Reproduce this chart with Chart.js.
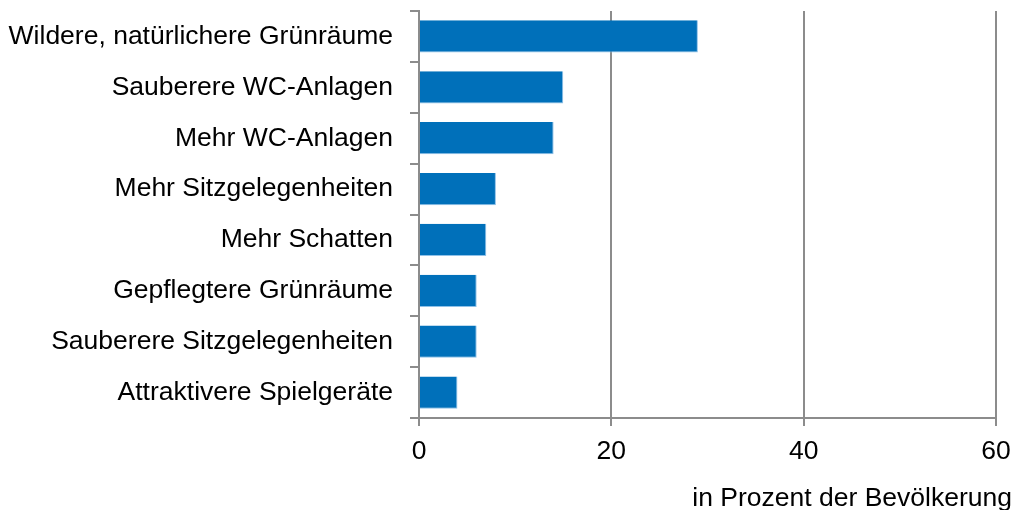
<!DOCTYPE html>
<html>
<head>
<meta charset="utf-8">
<script src="https://cdn.jsdelivr.net/npm/chart.js@4/dist/chart.umd.min.js"></script>
<style>
  html, body { margin: 0; padding: 0; background: #ffffff; }
  #wrap { width: 1015px; height: 510px; }
</style>
</head>
<body>
<div id="wrap"><canvas id="c" width="1015" height="510"></canvas></div>
<script>
const categories = [
  "Wildere, natürlichere Grünräume",
  "Sauberere WC-Anlagen",
  "Mehr WC-Anlagen",
  "Mehr Sitzgelegenheiten",
  "Mehr Schatten",
  "Gepflegtere Grünräume",
  "Sauberere Sitzgelegenheiten",
  "Attraktivere Spielgeräte"
];
const values = [29, 15, 14, 8, 7, 6, 6, 4];
const xTicks = [0, 20, 40, 60];
const axisTitle = "in Prozent der Bevölkerung";

const FONT = "'Liberation Sans', Arial, sans-serif";
const FSIZE = 26.5;
const GRID = "#8c8c8c";

const axisTitlePlugin = {
  id: 'axisTitle',
  afterDraw(chart) {
    const ctx = chart.ctx;
    ctx.save();
    ctx.font = FSIZE + "px " + FONT;
    ctx.fillStyle = "#000000";
    ctx.textAlign = "right";
    ctx.textBaseline = "alphabetic";
    ctx.fillText(axisTitle, 1012, 506);
    ctx.restore();
  }
};

new Chart(document.getElementById('c'), {
  type: 'bar',
  data: {
    labels: categories,
    datasets: [{
      data: values,
      backgroundColor: '#0070ba',
      borderColor: '#8fc1e8',
      borderWidth: { top: 0, left: 0, right: 1, bottom: 1 },
      borderSkipped: false,
      barPercentage: 0.635,
      categoryPercentage: 1.0
    }]
  },
  options: {
    indexAxis: 'y',
    responsive: false,
    animation: false,
    devicePixelRatio: 1,
    layout: { padding: { top: 11, right: 19, bottom: 0, left: 0 } },
    plugins: {
      legend: { display: false },
      tooltip: { enabled: false },
      title: { display: false }
    },
    scales: {
      x: {
        type: 'linear',
        min: 0,
        max: 60,
        afterBuildTicks(scale) { scale.ticks = xTicks.map(v => ({ value: v })); },
        afterFit(scale) {
          scale.height = 92;
          scale.paddingLeft = 0;
          scale.paddingRight = 0;
        },
        grid: {
          display: true,
          drawOnChartArea: true,
          drawTicks: true,
          tickLength: 8,
          color: GRID,
          lineWidth: 2
        },
        border: { display: true, color: GRID, width: 2 },
        ticks: {
          color: '#000000',
          font: { family: FONT, size: FSIZE },
          padding: 10,
          maxRotation: 0
        }
      },
      y: {
        afterFit(scale) {
          scale.width = 419;
          scale.paddingTop = 0;
          scale.paddingBottom = 0;
        },
        grid: {
          display: true,
          offset: true,
          drawOnChartArea: false,
          drawTicks: true,
          tickLength: 9,
          color: GRID,
          lineWidth: 2
        },
        border: { display: true, color: GRID, width: 2 },
        ticks: {
          color: '#000000',
          font: { family: FONT, size: FSIZE },
          padding: 17
        }
      }
    }
  },
  plugins: [axisTitlePlugin]
});
</script>
</body>
</html>
